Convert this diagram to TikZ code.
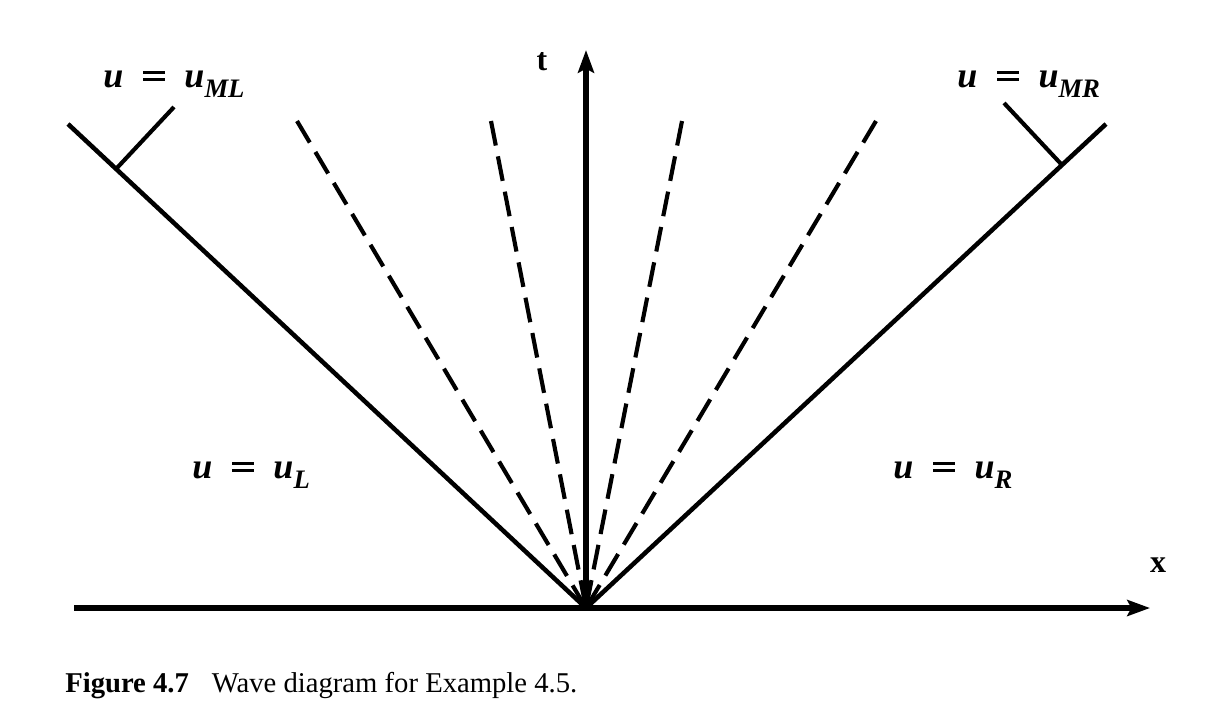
\documentclass[tikz,border=0pt]{standalone}
\usepackage{fontspec}
\setmainfont{Liberation Serif}
\usetikzlibrary{arrows.meta}
\tikzset{
  axis/.style={line width=4pt,-{Stealth[length=17pt,width=12pt,inset=3pt]}},
  wave/.style={line width=3.4pt},
  fan/.style={line width=3.1pt,dash pattern=on 18.75pt off 8.25pt},
  tickline/.style={line width=3.1pt},
  lbl/.style={inner sep=0pt,anchor=base west,font=\fontsize{27}{32}\selectfont\bfseries\itshape},
  axlbl/.style={inner sep=0pt,font=\fontsize{24}{28}\selectfont\bfseries},
}
\newcommand{\thickeq}{\raisebox{0.17em}{\vbox{\hrule width 0.6em height 0.075em \vskip 0.13em \hrule width 0.6em height 0.075em}}}
\newcommand{\ulab}[1]{u\hspace{0.55em}\thickeq\hspace{0.55em}u\raisebox{-0.3em}{\fontsize{20}{24}\selectfont\bfseries\itshape #1}}
\begin{document}
\begin{tikzpicture}[x=0.75pt,y=-0.75pt]
\useasboundingbox (0,0) rectangle (1212,715);
% coordinates
\coordinate (O) at (586,608);
\coordinate (xl) at (74,608);
\coordinate (xr) at (1150,608);
\coordinate (tt) at (586,50);
\coordinate (Lend) at (68,124);
\coordinate (Rend) at (1106,124);
\coordinate (Lt0) at (116,169);
\coordinate (Lt1) at (174,107);
\coordinate (Rt0) at (1062,165);
\coordinate (Rt1) at (1004,103);
\coordinate (d1) at (297,121);
\coordinate (d2) at (491,121);
\coordinate (d3) at (682,121);
\coordinate (d4) at (876,121);
% axes
\draw[axis] (xl) -- (xr);
\draw[axis] (O) -- (tt);
% waves
\draw[wave] (O) -- (Lend);
\draw[wave] (O) -- (Rend);
\draw[tickline] (Lt0) -- (Lt1);
\draw[tickline] (Rt0) -- (Rt1);
\draw[fan] (d1) -- (O);
\draw[fan] (d2) -- (O);
\draw[fan] (d3) -- (O);
\draw[fan] (d4) -- (O);
% labels
\node[axlbl] (tlab) at (542,62) {t};
\node[axlbl] (xlab) at (1158,565) {x};
\node[lbl] (ml) at (103,87) {\ulab{ML}};
\node[lbl] (mr) at (957,87) {\ulab{MR}};
\node[lbl] (ul) at (192,478) {\ulab{L}};
\node[lbl] (ur) at (893,478) {\ulab{R}};
\node[inner sep=0pt,anchor=base west,font=\fontsize{21.5}{25}\selectfont] (cap) at (65,692) {\textbf{Figure 4.7}\hspace{0.8em}Wave diagram for Example 4.5.};
\end{tikzpicture}
\end{document}
